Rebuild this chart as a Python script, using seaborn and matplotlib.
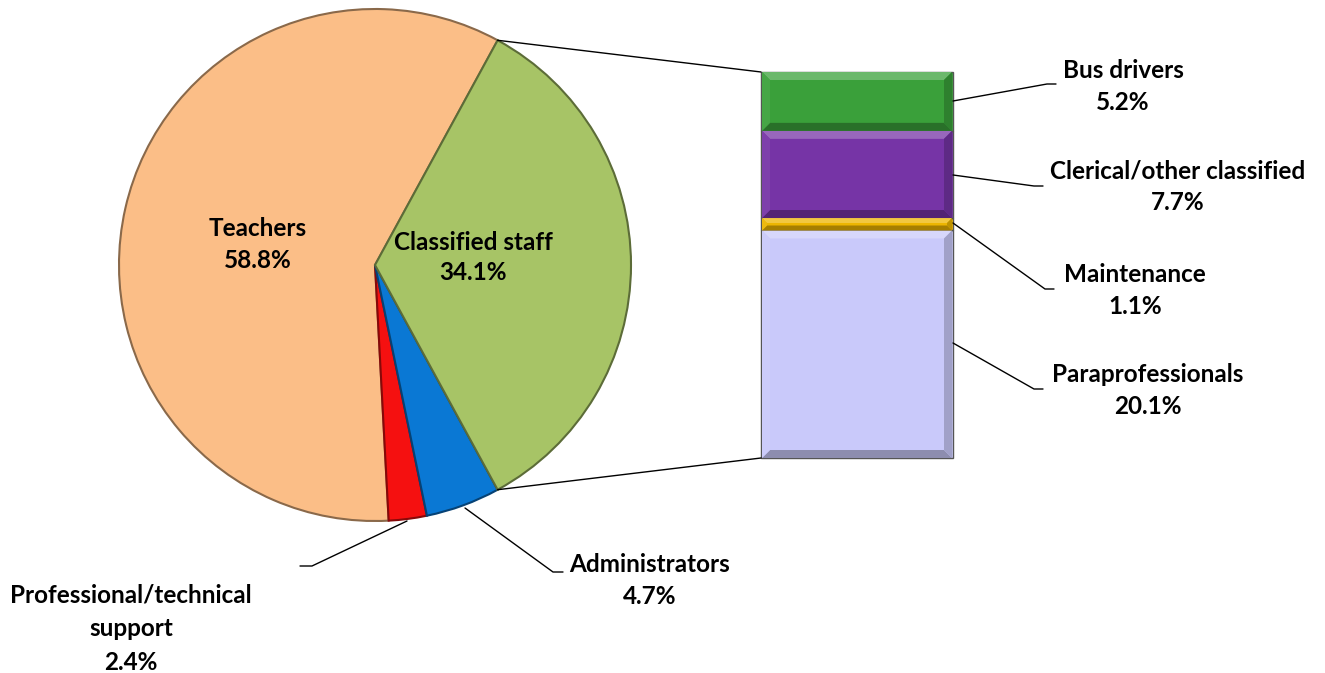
import numpy as np
import matplotlib.pyplot as plt
import matplotlib.colors as mcolors
from matplotlib.patches import Polygon
import seaborn as sns

# pie (counter-clockwise from top edge of classified slice)
pie_labels = ["Teachers", "Professional/technical\nsupport", "Administrators", "Classified staff"]
pie_values = [58.8, 2.4, 4.7, 34.1]
pie_colors = ["#FBBE87", "#F51010", "#0A78D4", "#A7C466"]

# breakdown of classified staff, bottom to top
bar_labels = ["Paraprofessionals", "Maintenance", "Clerical/other classified", "Bus drivers"]
bar_values = [20.1, 1.1, 7.7, 5.2]
bar_colors = ["#C9C9FA", "#EDB600", "#7634A6", "#3AA03A"]

sns.set_style("white")
plt.rcParams["font.family"] = ["Lato", "DejaVu Sans"]

W, H = 1325, 673
fig = plt.figure(figsize=(W / 100, H / 100), dpi=100)
ax = fig.add_axes([0, 0, 1, 1])


def fy(y):
    return H - y


def shade(c, f):
    rgb = np.array(mcolors.to_rgb(c))
    if f < 1:
        return tuple(rgb * f)
    return tuple(rgb + (1 - rgb) * (f - 1))


cx, cy, r = 375, fy(265), 256
start = 180 * pie_values[-1] / sum(pie_values)

wedges, _ = ax.pie(pie_values, colors=pie_colors, startangle=start, counterclock=True,
                   center=(cx, cy), radius=r, frame=True,
                   wedgeprops=dict(linewidth=1.5))
for w, c in zip(wedges, pie_colors):
    w.set_edgecolor(shade(c, 0.55))

ax.set_xlim(0, W)
ax.set_ylim(0, H)
ax.set_aspect("equal")
ax.axis("off")

# stacked bar
bx0, bx1 = 761, 953
btop, bbot = fy(72), fy(458)
scale = (btop - bbot) / sum(bar_values)
heights = np.array(bar_values) * scale
bottoms = bbot + np.concatenate([[0], np.cumsum(bar_values)[:-1]]) * scale
ax.bar([(bx0 + bx1) / 2] * len(bar_values), heights, bottom=bottoms,
       width=bx1 - bx0, color=bar_colors, edgecolor="#555555", linewidth=1.0, zorder=2)

# soft bevel on each bar segment
for b, h, c in zip(bottoms, heights, bar_colors):
    t = b + h
    d = min(8, h / 2.5)
    x0, x1 = bx0 + 1, bx1 - 1
    sides = [
        ([(x0, t), (x1, t), (x1 - d, t - d), (x0 + d, t - d)], 1.25),   # top
        ([(x0, b), (x1, b), (x1 - d, b + d), (x0 + d, b + d)], 0.7),    # bottom
        ([(x0, b), (x0, t), (x0 + d, t - d), (x0 + d, b + d)], 1.06),   # left
        ([(x1, b), (x1, t), (x1 - d, t - d), (x1 - d, b + d)], 0.8),    # right
    ]
    for pts, f in sides:
        ax.add_patch(Polygon(pts, closed=True, facecolor=shade(c, f), edgecolor="none", zorder=3))

# connector lines from classified slice to bar
a1 = np.deg2rad(start)
a2 = np.deg2rad(-start)
ax.plot([cx + r * np.cos(a1), bx0], [cy + r * np.sin(a1), btop], color="black", lw=1)
ax.plot([cx + r * np.cos(a2), bx0], [cy + r * np.sin(a2), bbot], color="black", lw=1)

fs = 17.5
tkw = dict(ha="center", va="center", fontsize=fs, fontweight="bold", color="black")

# inner pie labels
ax.text(258, fy(228), pie_labels[0], **tkw)
ax.text(258, fy(260), f"{pie_values[0]}%", **tkw)
ax.text(473, fy(242), pie_labels[3], **tkw)
ax.text(473, fy(272), f"{pie_values[3]}%", **tkw)

# outer pie labels with leaders
ax.plot([465, 553, 563], [fy(508), fy(572), fy(572)], color="black", lw=1)
ax.text(650, fy(565), pie_labels[2], **tkw)
ax.text(650, fy(597), f"{pie_values[2]}%", **tkw)

ax.plot([407, 312, 300], [fy(521), fy(566), fy(566)], color="black", lw=1)
ax.text(131, fy(595), "Professional/technical", **tkw)
ax.text(131, fy(629), "support", **tkw)
ax.text(131, fy(663), f"{pie_values[1]}%", **tkw)

# bar labels with leaders
leaders = {
    "Bus drivers": ([953, 1047, 1056], [101, 84, 84], 1123, 70),
    "Clerical/other classified": ([953, 1034, 1043], [175, 186, 186], 1178, 171),
    "Maintenance": ([953, 1045, 1054], [223, 289, 289], 1135, 275),
    "Paraprofessionals": ([953, 1034, 1043], [343, 389, 389], 1148, 374),
}
for lab, val in zip(bar_labels, bar_values):
    xs, ys, tx, ty = leaders[lab]
    ax.plot(xs, [fy(v) for v in ys], color="black", lw=1)
    ax.text(tx, fy(ty), lab, **tkw)
    ax.text(tx, fy(ty + 32), f"{val}%", **tkw)

fig.savefig("out.png", dpi=100)
